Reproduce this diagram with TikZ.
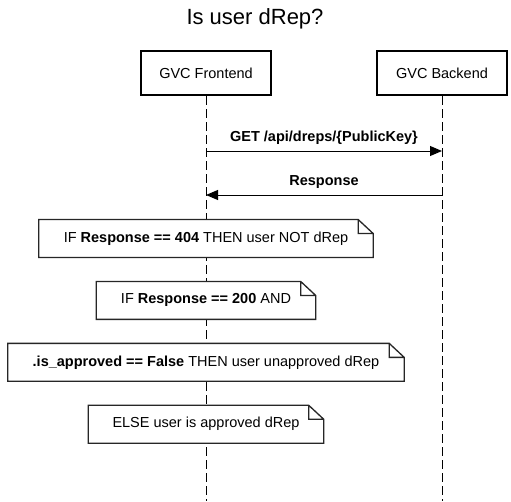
\documentclass[tikz,border=0pt]{standalone}
\usepackage{fontspec}
\setmainfont{Liberation Sans}
\usetikzlibrary{arrows.meta, positioning}

\begin{document}
\begin{tikzpicture}[
		x=1pt, y=-1pt,
		node distance=24pt,
		actor/.style={draw, line width=2pt, fill=white,
			minimum width=130pt, minimum height=44pt,
			font=\fontsize{14.5}{17}\selectfont},
		note/.style={fill=white, minimum height=37.5pt, inner sep=0pt,
			font=\fontsize{14.5}{17}\selectfont},
		notefold/.style={draw=black!85, line width=1.3pt, line join=miter},
		lifeline/.style={line width=1pt, dash pattern=on 9pt off 4pt},
		msg/.style={-{Triangle[length=12pt, width=10pt]}, line width=1pt},
		msglabel/.style={font=\bfseries\fontsize{14.5}{17}\selectfont, above=3pt},
		]
		\useasboundingbox (0,0) rectangle (511,501);
		% ── Title ────────────────────────────────────────────────────────────────────
		\node[font=\fontsize{22}{26}\selectfont] (title) at (255,19) {Is user dRep?};
		% ── Participants and lifelines ───────────────────────────────────────────────
		\node[actor]                 (fe) at (206,73) {GVC Frontend};
		\node[actor, right=104pt of fe] (be)          {GVC Backend};
		\coordinate (feend) at (206,501);
		\coordinate (beend) at (be.center |- feend);
		\draw[lifeline] (fe.south) -- (feend);
		\draw[lifeline] (be.south) -- (beend);
		% ── Messages ─────────────────────────────────────────────────────────────────
		\coordinate (getfe)  at (206,151);
		\coordinate (getbe)  at (be.center |- getfe);
		\coordinate (respfe) at (206,195);
		\coordinate (respbe) at (be.center |- respfe);
		\draw[msg] (getfe) -- (getbe)
		node[midway, msglabel]{GET /api/dreps/\{PublicKey\}};
		\draw[msg] (respbe) -- (respfe)
		node[midway, msglabel]{Response};
		% ── Notes on the frontend lifeline ───────────────────────────────────────────
		\node[note, minimum width=334pt] (n404) at (206,238.5)
		{IF \textbf{Response == 404} THEN user NOT dRep};
		\node[note, minimum width=219pt, below=24pt of n404]   (n200)
		{IF \textbf{Response == 200} AND};
		\node[note, minimum width=396pt, below=24pt of n200]   (nfalse)
		{\textbf{.is\_approved == False} THEN user unapproved dRep};
		\node[note, minimum width=235pt, below=24pt of nfalse] (nelse)
		{ELSE user is approved dRep};
		% folded corner outlines
		\foreach \n in {n404, n200, nfalse, nelse}
		\draw[notefold] (\n.south west) -- (\n.north west)
		-- ([xshift=-15pt]\n.north east) -- ([yshift=-14pt]\n.north east)
		-- (\n.south east) -- cycle
		([xshift=-15pt]\n.north east) |- ([yshift=-14pt]\n.north east);
	\end{tikzpicture}
\end{document}
